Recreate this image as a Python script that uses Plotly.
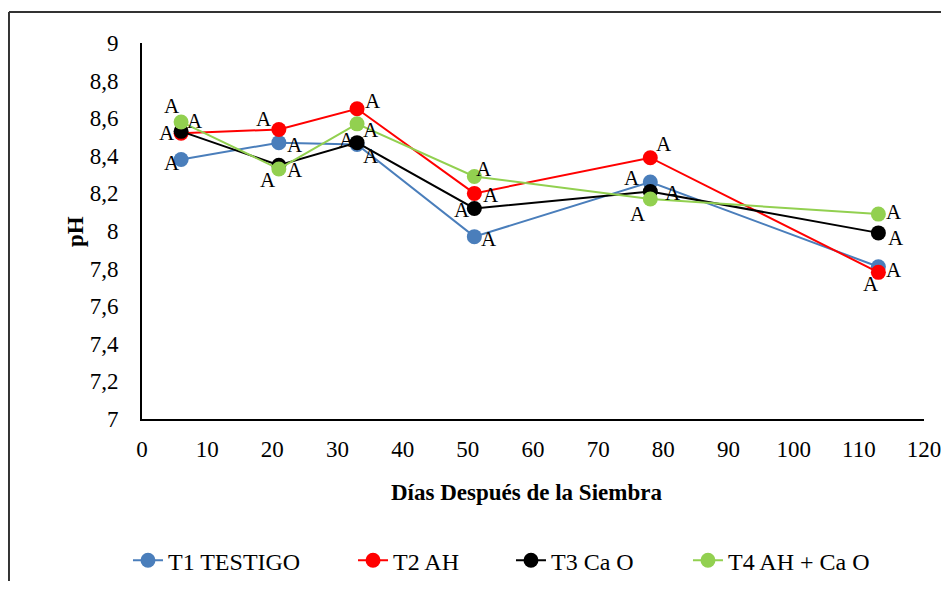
import plotly.graph_objects as go

dias = [6, 21, 33, 51, 78, 113]

t1_testigo = [8.38, 8.47, 8.46, 7.97, 8.26, 7.81]
t2_ah = [8.52, 8.54, 8.65, 8.20, 8.39, 7.78]
t3_cao = [8.53, 8.35, 8.47, 8.12, 8.21, 7.99]
t4_ah_cao = [8.58, 8.33, 8.57, 8.29, 8.17, 8.09]

letras = ['A', 'A', 'A', 'A', 'A', 'A']

# pixel offsets of each "A" label from its marker, and legend slot (container x)
series = [
    ('T1 TESTIGO', t1_testigo, '#4a7ebb',
     [(-9, -3), (16, -2), (-10, 5), (15, -2), (-18, 4), (16, -3)], 'legend', 0.1286),
    ('T2 AH', t2_ah, '#ff0000',
     [(-14, 0), (-15, 10), (16, 8), (17, -2), (14, 14), (-7, -12)], 'legend2', 0.3698),
    ('T3 Ca O', t3_cao, '#000000',
     [(14, 10), (-11, -15), (14, -13), (-12, -2), (23, -1), (18, -5)], 'legend3', 0.5391),
    ('T4 AH + Ca O', t4_ah_cao, '#92d050',
     [(-9, 16), (16, -1), (14, -6), (10, 7), (-12, -15), (16, 2)], 'legend4', 0.7288),
]

fig = go.Figure()
annotations = []
legends = {}
for name, vals, color, offs, leg, lx in series:
    fig.add_trace(go.Scatter(
        x=dias, y=vals, name=name, mode='lines+markers',
        line=dict(color=color, width=2),
        marker=dict(color=color, size=15),
        legend=leg, showlegend=True,
    ))
    legends[leg] = dict(xref='container', yref='container', x=lx, xanchor='left',
                        y=0.0354, yanchor='middle', font=dict(size=24),
                        bgcolor='rgba(0,0,0,0)')
    for x, y, t, (dx, dy) in zip(dias, vals, letras, offs):
        annotations.append(dict(x=x, y=y, text=t, showarrow=False,
                                xshift=dx, yshift=dy,
                                font=dict(family='Liberation Serif', size=21, color='black')))

# axis titles
annotations.append(dict(text='<b>Días Después de la Siembra</b>', xref='paper', yref='paper',
                        x=0.4923, y=-0.1968, yanchor='middle', showarrow=False,
                        font=dict(size=23)))
annotations.append(dict(text='<b>pH</b>', xref='paper', yref='paper', textangle=-90,
                        x=-0.0857, y=0.5, xanchor='center', yanchor='middle', showarrow=False,
                        font=dict(size=23)))

fig.update_layout(
    width=933, height=573,
    paper_bgcolor='white', plot_bgcolor='white',
    separators=',.',
    showlegend=True,
    font=dict(family='Liberation Serif', size=23, color='black'),
    margin=dict(l=134, r=17, t=35, b=162, autoexpand=False),
    annotations=annotations,
    shapes=[
        dict(type='line', xref='paper', yref='paper', x0=-0.1701, x1=1.05, y0=1.0824, y1=1.0824,
             line=dict(color='#333', width=2)),
        dict(type='line', xref='paper', yref='paper', x0=-0.1701, x1=-0.1701, y0=1.0824, y1=-0.5,
             line=dict(color='#333', width=2)),
    ],
    **legends,
)
fig.update_xaxes(range=[0, 120], dtick=10, showgrid=False, zeroline=False,
                 showline=True, linecolor='black', linewidth=2,
                 ticks='', ticklabelstandoff=8, ticklabeloverflow='allow')
fig.update_yaxes(range=[7, 9], dtick=0.2, showgrid=False, zeroline=False,
                 showline=True, linecolor='black', linewidth=2,
                 ticks='', ticklabelstandoff=17)

fig.write_html('out.html')
